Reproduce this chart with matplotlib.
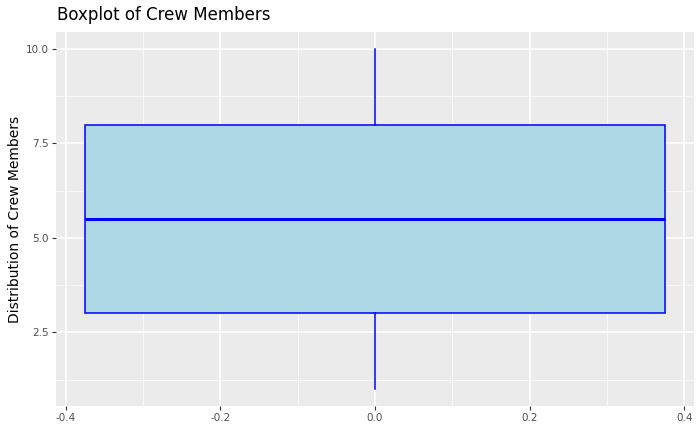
import matplotlib
matplotlib.use("Agg")
import matplotlib.pyplot as plt

stat_names = ["whislo", "q1", "med", "q3", "whishi"]
stat_values = [1.0, 3.0, 5.5, 8.0, 10.0]
x_ticks = [-0.4, -0.2, 0.0, 0.2, 0.4]
y_ticks = [2.5, 5.0, 7.5, 10.0]

fig = plt.figure(figsize=(7, 4.32), dpi=100)
ax = fig.add_axes([56/700, 1-406/432, 638/700, 374/432])
ax.set_facecolor("#EBEBEB")
for s in ax.spines.values():
    s.set_visible(False)

stats = dict(zip(stat_names, stat_values))
stats["fliers"] = []
ax.bxp([stats], positions=[0], widths=0.75, patch_artist=True, showcaps=False,
       boxprops=dict(facecolor="#ADD8E6", edgecolor="blue", linewidth=1.1),
       whiskerprops=dict(color="blue", linewidth=1.1),
       medianprops=dict(color="blue", linewidth=2.2), manage_ticks=False, zorder=3)

ax.set_xlim(-0.4125, 0.4125)
ax.set_ylim(0.55, 10.45)
ax.set_xticks(x_ticks)
ax.set_xticklabels([f"{v:.1f}" for v in x_ticks])
ax.set_yticks(y_ticks)
ax.set_yticklabels([f"{v:.1f}" for v in y_ticks])
ax.set_xticks([-0.3, -0.1, 0.1, 0.3], minor=True)
ax.set_yticks([3.75, 6.25, 8.75, 1.25], minor=True)
ax.grid(which="major", color="white", linewidth=1.1, zorder=0)
ax.grid(which="minor", color="white", linewidth=0.5, zorder=0)
ax.set_axisbelow(True)
ax.tick_params(which="major", colors="#333333", labelsize=7.5, length=3, color="#333333", pad=2)
ax.tick_params(which="minor", length=0)
ax.tick_params(axis="x", labelcolor="#4D4D4D")
ax.tick_params(axis="y", labelcolor="#4D4D4D")
ax.set_ylabel("Distribution of Crew Members", fontsize=10, labelpad=3)
fig.text(57/700, 1-15/432, "Boxplot of Crew Members", fontsize=12, va="center", ha="left")
fig.savefig("out.png", dpi=100)
